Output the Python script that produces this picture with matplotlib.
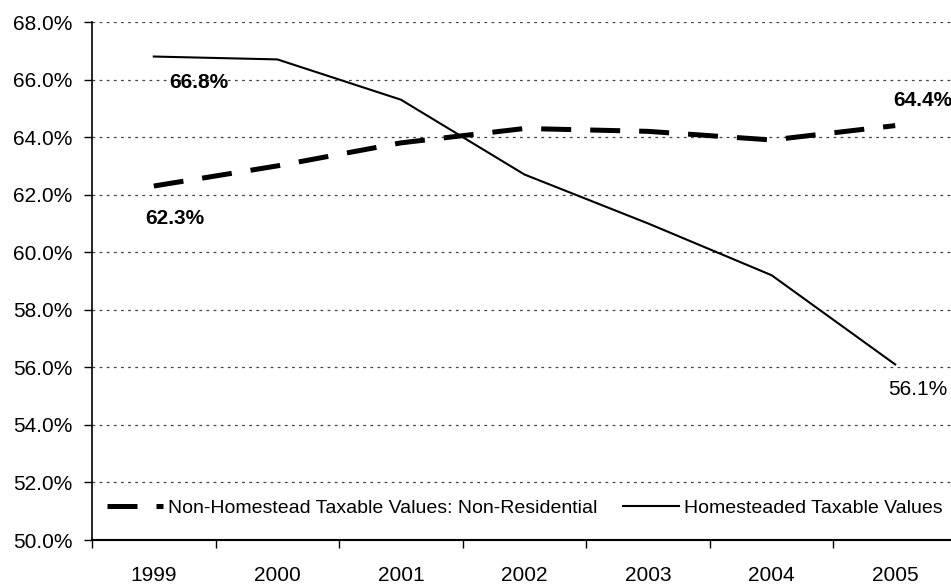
import matplotlib
matplotlib.use('Agg')
import matplotlib.pyplot as plt
import numpy as np

plt.rcParams['font.family'] = ['Liberation Sans', 'DejaVu Sans']

# data
years = ['1999', '2000', '2001', '2002', '2003', '2004', '2005']
non_homestead = [62.3, 63.0, 63.8, 64.3, 64.2, 63.9, 64.4]
homestead = [66.8, 66.7, 65.3, 62.7, 61.0, 59.2, 56.1]
y_ticks = [50, 52, 54, 56, 58, 60, 62, 64, 66, 68]

fig = plt.figure(figsize=(9.51, 5.84), dpi=100)
# axes run a little past the right edge, like the cropped original
ax = fig.add_axes([92 / 951, 44 / 584, 865 / 951, 518 / 584])

x = np.arange(len(years))
ax.plot(x, non_homestead, color='black', lw=3.6, linestyle=(0, (6, 3.8)),
        solid_capstyle='butt', dash_capstyle='butt',
        label='Non-Homestead Taxable Values: Non-Residential', zorder=3)
ax.plot(x, homestead, color='black', lw=1.5,
        label='Homesteaded Taxable Values', zorder=3)

ax.set_xlim(-0.5, len(years) - 0.5)
ax.set_ylim(50, 68)
ax.set_yticks(y_ticks)
ax.set_yticklabels(['%.1f%%' % v for v in y_ticks])
ax.set_xticks(x)
ax.set_xticklabels(years)
ax.set_xticks(np.arange(-0.5, len(years)), minor=True)

ax.tick_params(axis='x', which='major', length=0, pad=19, labelsize=15)
ax.tick_params(axis='x', which='minor', length=6, width=1, direction='out')
ax.tick_params(axis='y', length=6, width=1, direction='out', labelsize=15, pad=8)

ax.grid(axis='y', color='#444444', lw=0.9, linestyle=(0, (2.2, 3.5)))
ax.set_axisbelow(True)
for side in ['top', 'right']:
    ax.spines[side].set_visible(False)
ax.spines['left'].set_linewidth(1.2)
ax.spines['bottom'].set_linewidth(1.5)

# data labels
def label(i, series, text, dx, dy, bold=True):
    ax.annotate(text, (x[i], series[i]), xytext=(dx, dy), textcoords='offset pixels',
                ha='left', va='center', fontsize=15,
                fontweight='bold' if bold else 'normal', zorder=4,
                annotation_clip=False)

label(0, homestead, '66.8%', 15, -26)
label(0, non_homestead, '62.3%', -9, -32)
label(6, non_homestead, '64.4%', -2, 25)
label(6, homestead, '56.1%', -7, -25, bold=False)

fig.legend(loc='center', bbox_to_anchor=(0.552, 0.130), ncol=2, frameon=False,
           fontsize=14, handlelength=2.9, columnspacing=1.3, handletextpad=0.25)

fig.savefig('out.png', dpi=100, facecolor='white')
